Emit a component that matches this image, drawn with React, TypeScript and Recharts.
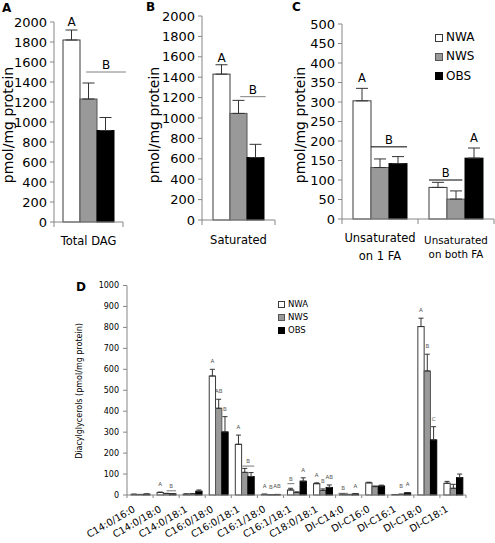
import React from "react";
import { BarChart, Bar, XAxis, YAxis, ErrorBar } from "recharts";

const FONT = "DejaVu Sans, Verdana, sans-serif";
const AXIS = "#868686";

const seriesNames = ["NWA", "NWS", "OBS"];
const seriesFill = ["#ffffff", "#999999", "#000000"];
const seriesStroke = ["#3a3a3a", "#555555", "#000000"];

// ---------- Panel A ----------
const categoriesA = ["Total DAG"];
const nwaA = [1820];
const nwsA = [1230];
const obsA = [915];
const nwaErrA = [100];
const nwsErrA = [160];
const obsErrA = [130];
const lettersNwaA = ["A"];
const lettersNwsA = [""];
const lettersObsA = [""];
const bracketsA = [{ cat: 0, series: "NWS", value: 1500, letter: "B" }];

// ---------- Panel B ----------
const categoriesB = ["Saturated"];
const nwaB = [1430];
const nwsB = [1045];
const obsB = [612];
const nwaErrB = [92];
const nwsErrB = [128];
const obsErrB = [130];
const lettersNwaB = ["A"];
const lettersNwsB = [""];
const lettersObsB = [""];
const bracketsB = [{ cat: 0, series: "NWS", value: 1209, letter: "B" }];

// ---------- Panel C ----------
const categoriesC = ["Unsaturated|on 1 FA", "Unsaturated|on both FA"];
const nwaC = [303, 81];
const nwsC = [132, 51];
const obsC = [142, 156];
const nwaErrC = [32, 13];
const nwsErrC = [22, 21];
const obsErrC = [18, 26];
const lettersNwaC = ["A", ""];
const lettersNwsC = ["", ""];
const lettersObsC = ["", "A"];
const bracketsC = [
  { cat: 0, series: "NWS", value: 185, letter: "B" },
  { cat: 1, series: "NWA", value: 100, letter: "B" },
];

// ---------- Panel D ----------
const categoriesD = [
  "C14:0/16:0", "C14:0/18:0", "C14:0/18:1", "C16:0/18:0", "C16:0/18:1",
  "C16:1/18:0", "C16:1/18:1", "C18:0/18:1", "DI-C14:0", "DI-C16:0",
  "DI-C16:1", "DI-C18:0", "DI-C18:1",
];
const nwaD = [3, 12, 4, 568, 242, 3, 24, 54, 3, 58, 2, 804, 56];
const nwsD = [2, 7, 5, 414, 108, 1, 12, 22, 2, 40, 3, 592, 32];
const obsD = [4, 5, 18, 301, 88, 2, 66, 36, 5, 43, 10, 263, 83];
const nwaErrD = [1, 2, 1, 32, 44, 1, 8, 4, 1, 3, 0.5, 40, 9];
const nwsErrD = [1, 1, 1, 43, 19, 0.5, 3, 7, 1, 3, 1, 80, 19];
const obsErrD = [1, 1, 6, 73, 19, 1, 16, 12, 1, 4, 2, 63, 17];
const lettersNwaD = ["", "A", "", "A", "A", "A", "", "A", "", "", "", "A", ""];
const lettersNwsD = ["", "", "", "AB", "", "B", "", "B", "", "", "B", "B", ""];
const lettersObsD = ["", "", "", "B", "", "AB", "A", "AB", "A", "", "A", "C", ""];
const bracketsD = [
  { cat: 1, series: "NWS", value: 20, letter: "B" },
  { cat: 4, series: "NWS", value: 138, letter: "B" },
  { cat: 6, series: "NWA", value: 54, letter: "B" },
  { cat: 8, series: "NWA", value: 8, letter: "B" },
];

const ticks2000 = [0, 200, 400, 600, 800, 1000, 1200, 1400, 1600, 1800, 2000];
const ticks500 = [0, 50, 100, 150, 200, 250, 300, 350, 400, 450, 500];
const ticks1000 = [0, 100, 200, 300, 400, 500, 600, 700, 800, 900, 1000];

function buildRows(cats: string[], a: number[], b: number[], c: number[], ea: number[], eb: number[], ec: number[]) {
  return cats.map((cat, i) => ({
    cat,
    NWA: a[i],
    NWS: b[i],
    OBS: c[i],
    NWAErr: [0, ea[i]],
    NWSErr: [0, eb[i]],
    OBSErr: [0, ec[i]],
  }));
}

type Cfg = {
  left: number; top: number; width: number; height: number;
  margin: { top: number; right: number; bottom: number; left: number };
  yWidth: number; xHeight: number; domain: number[]; ticks: number[];
  yFont: number; yTickSize: number; yTickMargin: number;
  rows: any[]; letters: Record<string, string[]>; brackets: any[]; spans: number[][];
  barSize: number; letterFont: number; letterGap: number; letterColor: string;
  bracketColor: string; errWidth: number;
  xTick: (p: any, band: number, n: number) => any;
};

function makeShape(si: number, c: Cfg) {
  const name = seriesNames[si];
  return (p: any) => {
    const { x, y, width, height } = p;
    let index = p.index;
    if (index === undefined || index === null) index = c.rows.findIndex((r) => r.cat === p.payload?.cat);
    const row = c.rows[index];
    if (!row) return <g />;
    const v = row[name];
    const h = Math.max(height, 0);
    const base = y + h;
    const k = v > 0 ? h / v : 0;
    const err = row[name + "Err"][1];
    const errTop = base - (v + err) * k;
    const letter = c.letters[name][index];
    const brs = c.brackets
      .map((b, bi) => ({ b, bi }))
      .filter(({ b }) => b.cat === index && b.series === name);
    return (
      <g>
        <rect x={x} y={y} width={width} height={h} fill={seriesFill[si]} stroke={seriesStroke[si]} strokeWidth={1} />
        {letter ? (
          <text x={x + width / 2} y={errTop - c.letterGap} textAnchor="middle" fontSize={c.letterFont} fill={c.letterColor} fontFamily={FONT}>
            {letter}
          </text>
        ) : null}
        {brs.map(({ b, bi }) => {
          const [f, t] = c.spans[bi];
          const ly = base - b.value * k;
          const x1 = x + f * width;
          const x2 = x + t * width;
          return (
            <g key={bi}>
              <line x1={x1} y1={ly} x2={x2} y2={ly} stroke={c.bracketColor} strokeWidth={1} />
              <text x={(x1 + x2) / 2} y={ly - 3} textAnchor="middle" fontSize={c.letterFont} fill={c.letterColor} fontFamily={FONT}>
                {b.letter}
              </text>
            </g>
          );
        })}
      </g>
    );
  };
}

function Panel({ c }: { c: Cfg }) {
  const n = c.rows.length;
  const plotW = c.width - c.margin.left - c.margin.right - c.yWidth;
  const band = plotW / n;
  return (
    <div style={{ position: "absolute", left: c.left, top: c.top }}>
      <BarChart width={c.width} height={c.height} data={c.rows} margin={c.margin} barGap={0} barSize={c.barSize}>
        <XAxis
          dataKey="cat"
          height={c.xHeight}
          interval={0}
          tickLine={false}
          tickSize={0}
          tickMargin={0}
          axisLine={{ stroke: AXIS }}
          tick={(p: any) => c.xTick(p, band, n)}
        />
        <YAxis
          type="number"
          domain={c.domain}
          ticks={c.ticks}
          width={c.yWidth}
          interval={0}
          tickSize={c.yTickSize}
          tickMargin={c.yTickMargin}
          axisLine={{ stroke: AXIS }}
          tickLine={{ stroke: AXIS }}
          tick={{ fontSize: c.yFont, fill: "#000", fontFamily: FONT }}
        />
        {seriesNames.map((s, si) => (
          <Bar key={s} dataKey={s} isAnimationActive={false} fill={seriesFill[si]} stroke={seriesStroke[si]} shape={makeShape(si, c)}>
            <ErrorBar dataKey={s + "Err"} width={c.errWidth} stroke="#333" strokeWidth={1} direction="y" />
          </Bar>
        ))}
      </BarChart>
    </div>
  );
}

function catTick(fonts: number[], dys: number[], lineHs: number[]) {
  return (p: any, band: number, n: number) => {
    const { x, y, payload, index } = p;
    const half = band / 2;
    const lines = String(payload.value).split("|");
    return (
      <g key={index}>
        <line x1={x - half} x2={x - half} y1={y} y2={y + 5} stroke={AXIS} />
        {index === n - 1 ? <line x1={x + half} x2={x + half} y1={y} y2={y + 5} stroke={AXIS} /> : null}
        <text x={x} y={y + dys[index]} textAnchor="middle" fontSize={fonts[index]} fontFamily={FONT} fill="#000">
          {lines.map((l, i) => (
            <tspan key={i} x={x} dy={i === 0 ? 0 : lineHs[index]}>
              {l}
            </tspan>
          ))}
        </text>
      </g>
    );
  };
}

function rotTick(p: any, band: number, n: number) {
  const { x, y, payload, index } = p;
  const half = band / 2;
  const ax = x - 4;
  const ay = y + 16;
  return (
    <g key={index}>
      <line x1={x - half} x2={x - half} y1={y} y2={y + 3} stroke={AXIS} />
      {index === n - 1 ? <line x1={x + half} x2={x + half} y1={y} y2={y + 3} stroke={AXIS} /> : null}
      <text x={ax} y={ay} transform={`rotate(-30, ${ax}, ${ay})`} textAnchor="end" fontSize={9.8} fontFamily={FONT} fill="#000">
        {payload.value}
      </text>
    </g>
  );
}

const cfgA: Cfg = {
  left: 0, top: 0, width: 130, height: 265,
  margin: { top: 22, right: 7, bottom: 0, left: 0 },
  yWidth: 54, xHeight: 43, domain: [0, 2000], ticks: ticks2000,
  yFont: 13, yTickSize: 4, yTickMargin: 3,
  rows: buildRows(categoriesA, nwaA, nwsA, obsA, nwaErrA, nwsErrA, obsErrA),
  letters: { NWA: lettersNwaA, NWS: lettersNwsA, OBS: lettersObsA },
  brackets: bracketsA, spans: [[0.36, 2.7]],
  barSize: 17, letterFont: 12, letterGap: 4, letterColor: "#000", bracketColor: "#808080", errWidth: 6,
  xTick: catTick([11.5], [23], [0]),
};

const cfgB: Cfg = {
  left: 148, top: 0, width: 130, height: 263,
  margin: { top: 16, right: 3, bottom: 0, left: 0 },
  yWidth: 54, xHeight: 43, domain: [0, 2000], ticks: ticks2000,
  yFont: 13, yTickSize: 4, yTickMargin: 3,
  rows: buildRows(categoriesB, nwaB, nwsB, obsB, nwaErrB, nwsErrB, obsErrB),
  letters: { NWA: lettersNwaB, NWS: lettersNwsB, OBS: lettersObsB },
  brackets: bracketsB, spans: [[0.6, 2.1]],
  barSize: 17, letterFont: 12, letterGap: 3, letterColor: "#000", bracketColor: "#808080", errWidth: 6,
  xTick: catTick([11.5], [24], [0]),
};

const cfgC: Cfg = {
  left: 288, top: 0, width: 207, height: 269,
  margin: { top: 24, right: 1, bottom: 0, left: 0 },
  yWidth: 54, xHeight: 50, domain: [0, 500], ticks: ticks500,
  yFont: 13, yTickSize: 4, yTickMargin: 3,
  rows: buildRows(categoriesC, nwaC, nwsC, obsC, nwaErrC, nwsErrC, obsErrC),
  letters: { NWA: lettersNwaC, NWS: lettersNwsC, OBS: lettersObsC },
  brackets: bracketsC, spans: [[0, 2], [0, 1.85]],
  barSize: 18, letterFont: 11.5, letterGap: 6, letterColor: "#000", bracketColor: "#000", errWidth: 6,
  xTick: catTick([11.5, 10.3], [23, 25], [17.5, 14]),
};

const cfgD: Cfg = {
  left: 70, top: 270, width: 406, height: 273,
  margin: { top: 15.5, right: 10, bottom: 0, left: 0 },
  yWidth: 57, xHeight: 48, domain: [0, 1000], ticks: ticks1000,
  yFont: 8, yTickSize: 4, yTickMargin: 4,
  rows: buildRows(categoriesD, nwaD, nwsD, obsD, nwaErrD, nwsErrD, obsErrD),
  letters: { NWA: lettersNwaD, NWS: lettersNwsD, OBS: lettersObsD },
  brackets: bracketsD, spans: [[0.5, 2], [0.1, 2], [0, 1.1], [-0.2, 1.3]],
  barSize: 6.3, letterFont: 5.5, letterGap: 6, letterColor: "#555", bracketColor: "#777", errWidth: 2.5,
  xTick: rotTick,
};

function LegendBox({ left, top, rowH, sq, font }: { left: number; top: number; rowH: number; sq: number; font: number }) {
  return (
    <div style={{ position: "absolute", left, top, fontFamily: FONT, fontSize: font, lineHeight: `${rowH}px` }}>
      {seriesNames.map((s, i) => (
        <div key={s} style={{ display: "flex", alignItems: "center", height: rowH }}>
          <span
            style={{
              display: "inline-block",
              width: sq,
              height: sq,
              background: seriesFill[i],
              border: `1px solid ${seriesStroke[i]}`,
              boxSizing: "border-box",
              marginRight: 3,
            }}
          />
          <span>{s}</span>
        </div>
      ))}
    </div>
  );
}

export default function App() {
  const title = (cx: number, cy: number, size: number, t: string) => (
    <text transform={`translate(${cx},${cy}) rotate(-90)`} textAnchor="middle" dominantBaseline="central" fontSize={size} fontFamily={FONT} fill="#000">
      {t}
    </text>
  );
  return (
    <div style={{ position: "relative", width: 495, height: 543, background: "#fff", overflow: "hidden" }}>
      <style>{"body{margin:0}"}</style>
      <Panel c={cfgA} />
      <Panel c={cfgB} />
      <Panel c={cfgC} />
      <Panel c={cfgD} />
      <LegendBox left={435} top={28} rowH={19.3} sq={8} font={12} />
      <LegendBox left={278} top={297.5} rowH={13.3} sq={7} font={8.5} />
      <svg width={495} height={543} style={{ position: "absolute", left: 0, top: 0, pointerEvents: "none" }}>
        <text x={2} y={12} fontWeight="bold" fontSize={12} fontFamily={FONT}>A</text>
        <text x={146} y={11} fontWeight="bold" fontSize={12} fontFamily={FONT}>B</text>
        <text x={292} y={11} fontWeight="bold" fontSize={12} fontFamily={FONT}>C</text>
        <text x={76} y={291} fontWeight="bold" fontSize={12} fontFamily={FONT}>D</text>
        {title(8, 125, 14, "pmol/mg protein")}
        {title(154, 125, 14, "pmol/mg protein")}
        {title(299.5, 125, 14, "pmol/mg protein")}
        {title(79, 391, 8, "Diacylglycerols (pmol/mg protein)")}
      </svg>
    </div>
  );
}
